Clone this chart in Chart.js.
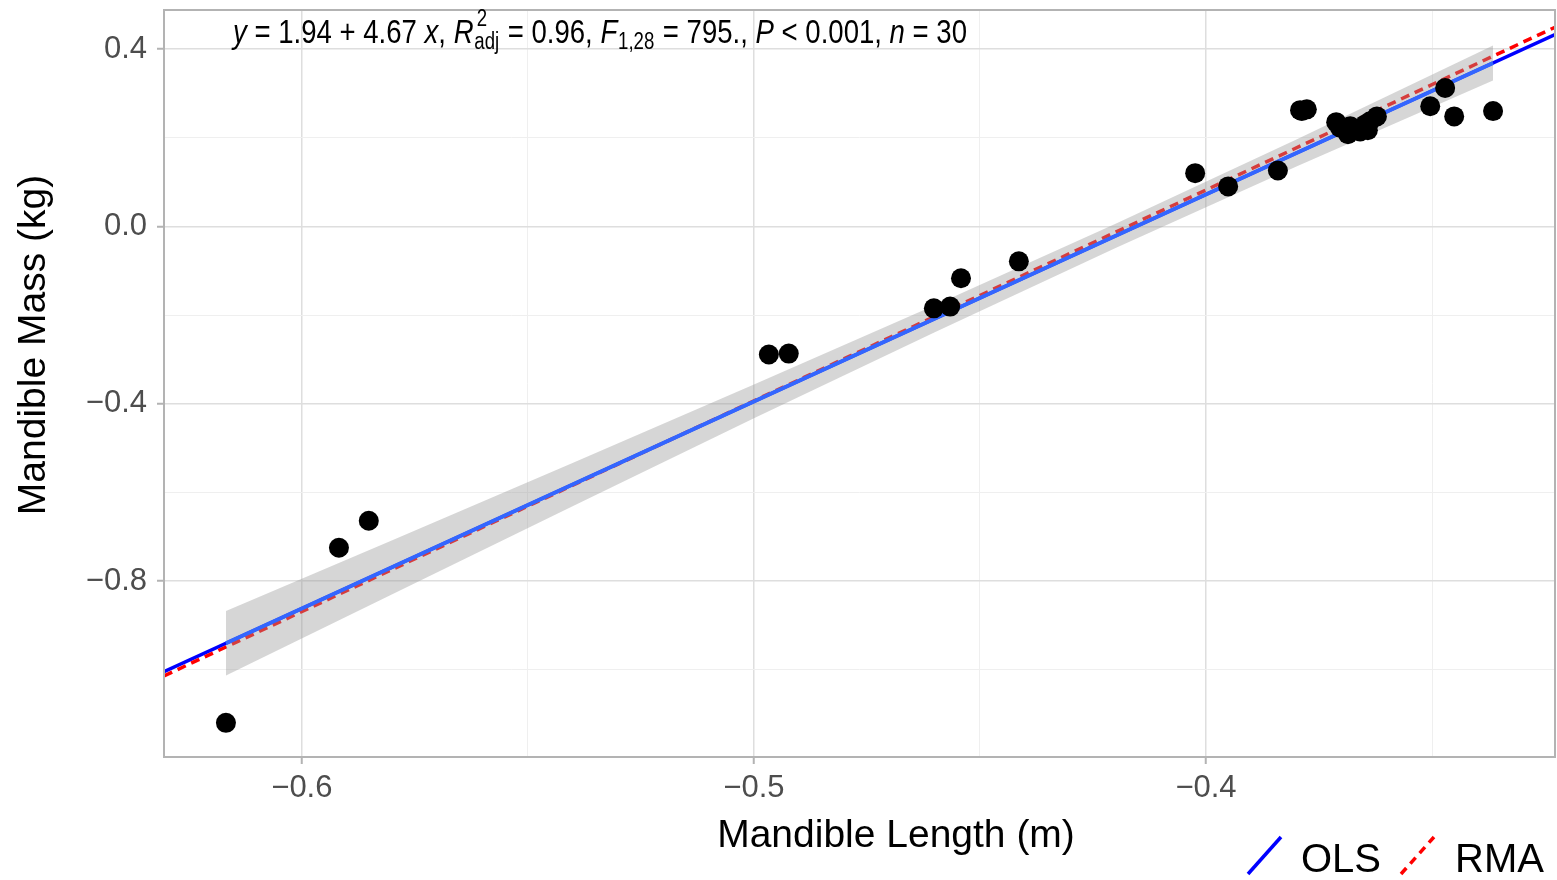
<!DOCTYPE html>
<html>
<head>
<meta charset="utf-8">
<script src="https://cdn.jsdelivr.net/npm/chart.js"></script>
<style>
  html, body { margin: 0; padding: 0; background: #fff; }
  canvas { display: block; }
</style>
</head>
<body>
<canvas id="chart" width="1557" height="880"></canvas>
<script>
// specimens: mandible length (m) vs mandible mass (kg), log scale values
const lengthM = [-0.6168, -0.5918, -0.5852, -0.4967, -0.4923, -0.4602, -0.4566, -0.4542, -0.4414, -0.4024,
                 -0.3951, -0.3841, -0.3792, -0.3788, -0.3777, -0.3712, -0.3704, -0.3692, -0.3686, -0.3681,
                 -0.3670, -0.3659, -0.3648, -0.3642, -0.3637, -0.3622, -0.3504, -0.3471, -0.3451, -0.3365];
const massKg = [-1.120, -0.725, -0.664, -0.289, -0.287, -0.185, -0.181, -0.117, -0.079, 0.120,
                0.090, 0.126, 0.262, 0.260, 0.264, 0.235, 0.223, 0.219, 0.208, 0.226,
                0.219, 0.214, 0.230, 0.217, 0.237, 0.248, 0.271, 0.312, 0.248, 0.260];

// intercept, slope
const olsCoef = [1.94, 4.67];
const rmaCoef = [1.984, 4.755];

// 95% confidence band of the fit
const bandX = [-0.6168, -0.58, -0.54, -0.50, -0.46, -0.42, -0.38, -0.3365];
const bandLower = [-1.013, -0.830, -0.631, -0.433, -0.239, -0.049, 0.135, 0.329];
const bandUpper = [-0.868, -0.708, -0.533, -0.357, -0.178, 0.006, 0.196, 0.408];

// axes
const xRange = [-0.6305, -0.3228];
const yRange = [-1.197, 0.488];
const xGrid = [-0.6, -0.55, -0.5, -0.45, -0.4, -0.35];
const yGrid = [-1.0, -0.8, -0.6, -0.4, -0.2, 0.0, 0.2, 0.4];
const xTickLabels = [-0.6, -0.5, -0.4];
const yTickLabels = [-0.8, -0.4, 0.0, 0.4];

const FONT = '"Liberation Sans", Arial, sans-serif';

const isMajor = (v, list) => list.some(m => Math.abs(m - v) < 1e-6);
const fmt = v => (v < -1e-9 ? '\u2212' : '') + Math.abs(v).toFixed(1);

const fitLine = (coef, xs) => xs.map(x => ({ x: x, y: coef[0] + coef[1] * x }));
const points = lengthM.map((x, i) => ({ x: x, y: massKg[i] }));
const smoothX = [Math.min(...lengthM), Math.max(...lengthM)];

// stats label above the panel, drawn piece by piece (italics, sub/superscripts)
function drawStats(ctx) {
  const big = 34, small = 23;
  const parts = [
    { t: 'y', it: true }, { t: ' = 1.94 + 4.67 ' }, { t: 'x', it: true }, { t: ', ' },
    { t: 'R', it: true }, { sup: '2', sub: 'adj' }, { t: ' = 0.96, ' },
    { t: 'F', it: true }, { sub: '1,28' }, { t: ' = 795., ' },
    { t: 'P', it: true }, { t: ' < 0.001, ' }, { t: 'n', it: true }, { t: ' = 30' }
  ];
  const w = p => {
    if (p.t) {
      ctx.font = (p.it ? 'italic ' : '') + big + 'px ' + FONT;
      return ctx.measureText(p.t).width;
    }
    ctx.font = small + 'px ' + FONT;
    return Math.max(p.sup ? ctx.measureText(p.sup).width : 0, ctx.measureText(p.sub).width) + 2;
  };
  const total = parts.reduce((s, p) => s + w(p), 0);
  const k = 734 / total;
  ctx.save();
  ctx.translate(233, 43);
  ctx.scale(k, 1);
  ctx.fillStyle = '#000';
  ctx.textAlign = 'left';
  ctx.textBaseline = 'alphabetic';
  let x = 0;
  parts.forEach(p => {
    const pw = w(p);
    if (p.t) {
      ctx.font = (p.it ? 'italic ' : '') + big + 'px ' + FONT;
      ctx.fillText(p.t, x, 0);
    } else {
      ctx.font = small + 'px ' + FONT;
      if (p.sup) ctx.fillText(p.sup, x + 4, -17);
      ctx.fillText(p.sub, x + 1, 6);
    }
    x += pw;
  });
  ctx.restore();
}

const decor = {
  id: 'decor',
  afterDraw(chart) {
    const ctx = chart.ctx;
    const a = chart.chartArea;
    ctx.save();
    // panel border
    ctx.strokeStyle = '#b3b3b3';
    ctx.lineWidth = 2;
    ctx.strokeRect(a.left, a.top, a.right - a.left, a.bottom - a.top);

    drawStats(ctx);

    // axis titles
    ctx.fillStyle = '#000';
    ctx.font = '39px ' + FONT;
    ctx.textAlign = 'center';
    ctx.textBaseline = 'alphabetic';
    ctx.fillText('Mandible Length (m)', 896, 847);
    ctx.save();
    ctx.translate(45, 345);
    ctx.rotate(-Math.PI / 2);
    ctx.fillText('Mandible Mass (kg)', 0, 0);
    ctx.restore();

    // legend keys
    ctx.lineCap = 'butt';
    ctx.lineWidth = 3.5;
    ctx.strokeStyle = '#0000ff';
    ctx.beginPath(); ctx.moveTo(1248, 874); ctx.lineTo(1281, 837); ctx.stroke();
    ctx.strokeStyle = '#ff0000';
    ctx.setLineDash([8, 6]);
    ctx.beginPath(); ctx.moveTo(1401, 874); ctx.lineTo(1434, 837); ctx.stroke();
    ctx.setLineDash([]);
    ctx.font = '40px ' + FONT;
    ctx.textAlign = 'left';
    ctx.fillText('OLS', 1301, 872);
    ctx.fillText('RMA', 1455, 872);
    ctx.restore();
  }
};

const gridOpts = list => ({
  color: c => isMajor(c.tick.value, list) ? '#dedede' : '#efefef',
  lineWidth: c => isMajor(c.tick.value, list) ? 1.5 : 1,
  tickColor: c => isMajor(c.tick.value, list) ? '#b3b3b3' : 'rgba(0,0,0,0)',
  tickLength: 7,
  tickWidth: 2
});

// fixed axis sizes, no extra room for edge labels
const fixSize = (dim, size) => s => {
  s[dim] = size;
  s.paddingTop = s.paddingBottom = s.paddingLeft = s.paddingRight = 0;
};

new Chart(document.getElementById('chart'), {
  type: 'scatter',
  data: {
    datasets: [
      {
        label: 'points',
        data: points,
        backgroundColor: '#000',
        borderWidth: 0,
        pointRadius: 10,
        order: 0
      },
      {
        label: 'smooth',
        data: fitLine(olsCoef, smoothX),
        showLine: true,
        borderColor: '#3366ff',
        borderWidth: 4,
        pointRadius: 0,
        order: 1
      },
      {
        label: 'band lower',
        data: bandX.map((x, i) => ({ x: x, y: bandLower[i] })),
        showLine: true,
        borderWidth: 0,
        borderColor: 'rgba(0,0,0,0)',
        pointRadius: 0,
        order: 2
      },
      {
        label: 'band upper',
        data: bandX.map((x, i) => ({ x: x, y: bandUpper[i] })),
        showLine: true,
        borderWidth: 0,
        borderColor: 'rgba(0,0,0,0)',
        pointRadius: 0,
        fill: '-1',
        backgroundColor: 'rgba(153,153,153,0.4)',
        order: 2
      },
      {
        label: 'RMA',
        data: fitLine(rmaCoef, xRange),
        showLine: true,
        borderColor: '#ff0000',
        borderWidth: 3.5,
        borderDash: [9, 6],
        pointRadius: 0,
        order: 3
      },
      {
        label: 'OLS',
        data: fitLine(olsCoef, xRange),
        showLine: true,
        borderColor: '#0000ff',
        borderWidth: 3.5,
        pointRadius: 0,
        order: 4
      }
    ]
  },
  options: {
    responsive: false,
    animation: false,
    layout: { autoPadding: false, padding: { top: 10, right: 2, left: 0, bottom: 0 } },
    plugins: { legend: { display: false }, tooltip: { enabled: false } },
    scales: {
      x: {
        type: 'linear',
        min: xRange[0],
        max: xRange[1],
        afterBuildTicks: s => { s.ticks = xGrid.map(v => ({ value: v })); },
        afterFit: fixSize('height', 123),
        border: { display: false },
        grid: gridOpts(xTickLabels),
        ticks: {
          autoSkip: false,
          maxRotation: 0,
          padding: 6,
          color: '#4d4d4d',
          font: { family: FONT, size: 31 },
          callback: v => isMajor(v, xTickLabels) ? fmt(v) : ''
        }
      },
      y: {
        type: 'linear',
        min: yRange[0],
        max: yRange[1],
        afterBuildTicks: s => { s.ticks = yGrid.map(v => ({ value: v })); },
        afterFit: fixSize('width', 164),
        border: { display: false },
        grid: gridOpts(yTickLabels),
        ticks: {
          autoSkip: false,
          padding: 10,
          color: '#4d4d4d',
          font: { family: FONT, size: 31 },
          callback: v => isMajor(v, yTickLabels) ? fmt(v) : ''
        }
      }
    }
  },
  plugins: [decor]
});
</script>
</body>
</html>
